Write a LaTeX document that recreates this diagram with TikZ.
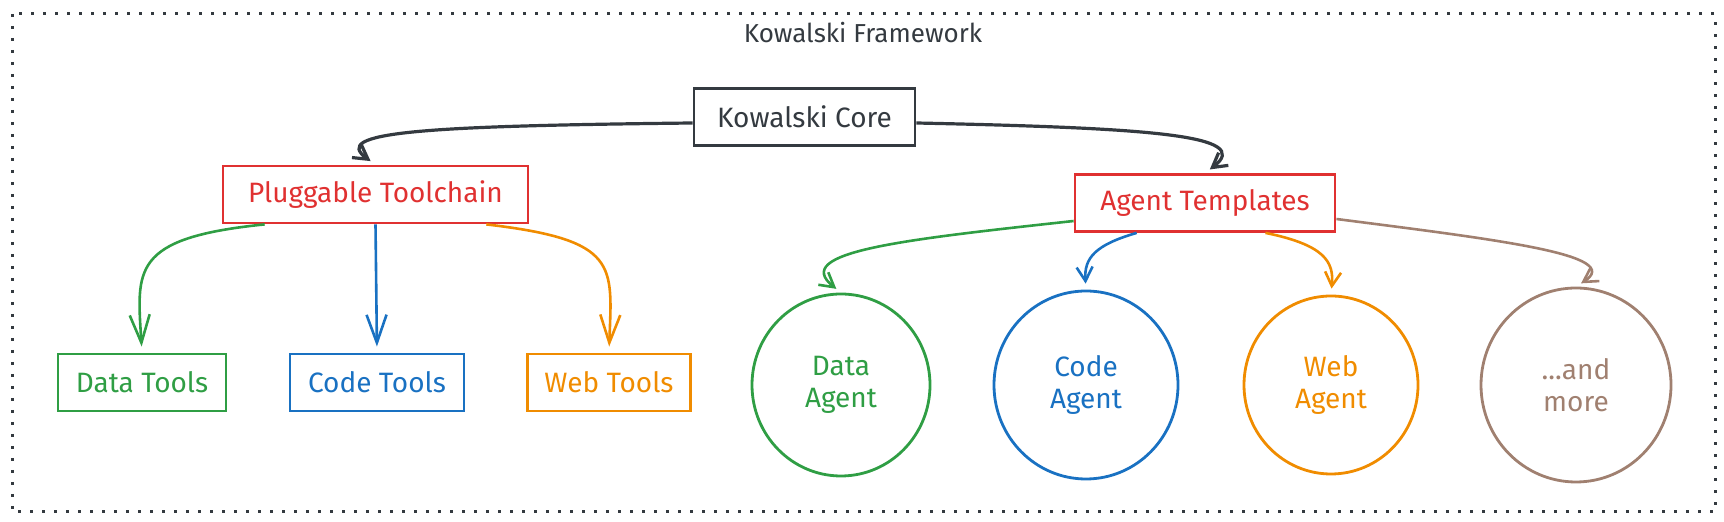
\documentclass[tikz,border=0pt]{standalone}
\usepackage{fontspec}
\setmainfont{Fira Sans}
\usetikzlibrary{shapes.geometric}
\usetikzlibrary{calc}
\usetikzlibrary{arrows.meta, positioning}
\definecolor{inkdark}{HTML}{343A40}
\definecolor{inkred}{HTML}{E03131}
\definecolor{inkgreen}{HTML}{2F9E44}
\definecolor{inkblue}{HTML}{1971C2}
\definecolor{inkorange}{HTML}{F08C00}
\definecolor{inkbrown}{HTML}{A08070}
\tikzset{
    ->, % every link gets a head
    >={Straight Barb[length=7pt,width=8pt]}, % open head like the sketch
    node distance=122.5pt, % centre to centre for the agents
    box/.style={draw, line width=1.4pt, minimum height=28.5pt, font=\fontsize{14}{16}\selectfont},
    agent/.style={ellipse, draw, line width=1.4pt, align=center, font=\fontsize{14}{16}\selectfont},
    link/.style={line width=1.3pt, shorten >=3pt},
    bighead/.style={>={Straight Barb[length=14pt,width=10pt]}},
}

\begin{document}
\begin{tikzpicture}[x=0.5pt, y=-0.5pt]
    \useasboundingbox (0,0) rectangle (1724,522);
    \draw[-, inkdark, line width=1.5pt, dash pattern=on 1.5pt off 4.5pt] (12,14) rectangle (1715,512);
    \node[font=\fontsize{13}{16}\selectfont, text=inkdark] (fw) at (863,33) {Kowalski Framework};

    \node[box, inkdark, minimum width=110.5pt] (core) at (804.5,117) {Kowalski Core};
    \node[box, inkred, minimum width=152.5pt] (tools) at (375.5,194.5) {Pluggable Toolchain};
    \node[box, inkred, minimum width=130pt] (tmpl) at (1205,203) {Agent Templates};

    \node[box, inkgreen, minimum width=84pt] (dt) at (142,382.5) {Data Tools};
    \node[box, inkblue, minimum width=87pt, right of=dt, node distance=117.5pt] (ct) {Code Tools};
    \node[box, inkorange, minimum width=81.5pt, right of=ct, node distance=116pt] (wt) {Web Tools};

    \node[agent, inkgreen, minimum width=89pt, minimum height=91pt] (da) at (841,385) {Data\\Agent};
    \node[agent, inkblue, minimum width=92pt, minimum height=94pt, right of=da] (ca) {Code\\Agent};
    \node[agent, inkorange, minimum width=87pt, minimum height=89pt, right of=ca] (wa) {Web\\Agent};
    \node[agent, inkbrown, minimum width=95pt, minimum height=97pt, right of=wa] (mo) {...and\\more};

    \draw[link, line width=1.6pt, inkdark] ([yshift=-3pt]core.west) .. controls (420,126) and (330,132) .. (tools.north);
    \draw[link, line width=1.6pt, inkdark] ([yshift=-3pt]core.east) .. controls (1150,128) and (1255,135) .. (tmpl.north);

    \coordinate (tg) at ($(tools.south west)!0.14!(tools.south east)$);
    \coordinate (to) at ($(tools.south west)!0.86!(tools.south east)$);
    \draw[link, bighead, inkgreen] (tg) .. controls (130,238) and (137,270) .. (dt.north);
    \draw[link, bighead, inkblue] (tools.south) -- (ct.north);
    \draw[link, bighead, inkorange] (to) .. controls (620,240) and (612,265) .. (wt.north);

    \coordinate (tb) at ($(tmpl.south west)!0.24!(tmpl.south east)$);
    \coordinate (tr) at ($(tmpl.south west)!0.73!(tmpl.south east)$);
    \draw[link, inkgreen] ([yshift=-9pt]tmpl.west) .. controls (900,240) and (790,252) .. (da.north);
    \draw[link, inkblue] (tb) .. controls (1095,245) and (1084,258) .. (ca.north);
    \draw[link, inkorange] (tr) .. controls (1325,245) and (1334,262) .. (wa.north);
    \draw[link, inkbrown] ([yshift=-8pt]tmpl.east) .. controls (1500,240) and (1625,255) .. (mo.north);
\end{tikzpicture}
\end{document}
